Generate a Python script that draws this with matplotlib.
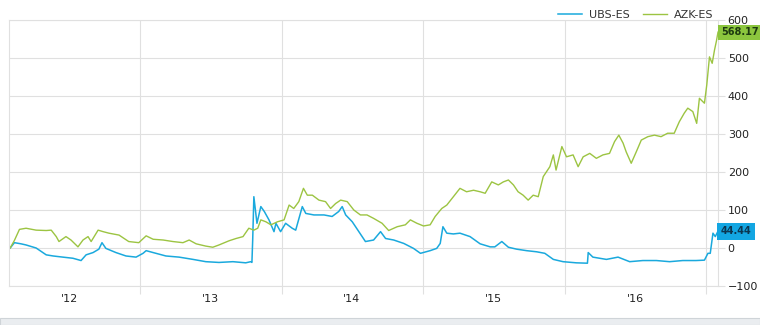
import matplotlib
matplotlib.use('Agg')
import matplotlib.pyplot as plt
import pandas as pd

# relative performance (%)
azk_dates = ['2012-01-31', '2012-02-11', '2012-02-24', '2012-03-12', '2012-04-07', '2012-05-03',
             '2012-05-16', '2012-05-29', '2012-06-05', '2012-06-23', '2012-07-06', '2012-07-24',
             '2012-08-06', '2012-08-19', '2012-08-27', '2012-09-14', '2012-09-27', '2012-10-12',
             '2012-11-07', '2012-12-02', '2012-12-28', '2013-01-16', '2013-02-03', '2013-03-01',
             '2013-03-26', '2013-04-21', '2013-05-07', '2013-05-25', '2013-06-19', '2013-07-07',
             '2013-07-23', '2013-08-18', '2013-09-05', '2013-09-23', '2013-10-08', '2013-10-21',
             '2013-10-31', '2013-11-08', '2013-11-21', '2013-12-04', '2013-12-21', '2014-01-07',
             '2014-01-20', '2014-02-01', '2014-02-14', '2014-02-26', '2014-03-08', '2014-03-21',
             '2014-04-07', '2014-04-24', '2014-05-07', '2014-05-20', '2014-06-02', '2014-06-19',
             '2014-07-06', '2014-07-23', '2014-08-09', '2014-08-26', '2014-09-17', '2014-10-04',
             '2014-10-26', '2014-11-16', '2014-11-29', '2014-12-16', '2015-01-02', '2015-01-19',
             '2015-02-01', '2015-02-18', '2015-03-03', '2015-03-20', '2015-04-06', '2015-04-23',
             '2015-05-11', '2015-05-28', '2015-06-10', '2015-06-27', '2015-07-14', '2015-07-27',
             '2015-08-09', '2015-08-22', '2015-09-03', '2015-09-16', '2015-09-29', '2015-10-12',
             '2015-10-25', '2015-11-07', '2015-11-24', '2015-12-03', '2015-12-10', '2015-12-25',
             '2016-01-06', '2016-01-23', '2016-02-05', '2016-02-18', '2016-03-06', '2016-03-23',
             '2016-04-09', '2016-04-26', '2016-05-09', '2016-05-20', '2016-05-31', '2016-06-08',
             '2016-06-21', '2016-07-04', '2016-07-17', '2016-08-03', '2016-08-20', '2016-09-06',
             '2016-09-23', '2016-10-10', '2016-10-23', '2016-11-05', '2016-11-14', '2016-11-27',
             '2016-12-07', '2016-12-14', '2016-12-27', '2017-01-02', '2017-01-09', '2017-01-16',
             '2017-01-22', '2017-01-27', '2017-01-31']
azk_values = [0, 20, 49, 52, 47, 46,
              47, 30, 17, 30, 21, 3,
              21, 30, 17, 47, 43, 39,
              34, 17, 14, 32, 23, 21,
              17, 14, 21, 11, 5, 2,
              8, 19, 25, 30, 52, 47,
              52, 74, 69, 61, 69, 74,
              113, 104, 122, 157, 139, 139,
              126, 122, 104, 117, 126, 122,
              100, 87, 87, 78, 65, 46,
              56, 61, 74, 65, 58, 61,
              83, 104, 113, 135, 157, 148,
              152, 148, 144, 174, 166, 174,
              179, 166, 148, 139, 126, 139,
              135, 188, 214, 245, 205, 267,
              240, 245, 214, 240, 249, 236,
              245, 249, 280, 297, 276, 253,
              223, 253, 284, 293, 297, 293,
              302, 302, 332, 355, 368, 359,
              328, 394, 381, 429, 503, 486,
              521, 545, 568.17]

ubs_dates = ['2012-01-31', '2012-02-11', '2012-02-28', '2012-03-12', '2012-04-07', '2012-05-03',
             '2012-05-21', '2012-06-15', '2012-07-11', '2012-08-01', '2012-08-14', '2012-09-01',
             '2012-09-16', '2012-09-24', '2012-10-04', '2012-10-30', '2012-11-25', '2012-12-21',
             '2013-01-08', '2013-01-16', '2013-02-03', '2013-03-08', '2013-04-11', '2013-05-17',
             '2013-06-19', '2013-07-23', '2013-08-28', '2013-09-30', '2013-10-13', '2013-10-16',
             '2013-10-18', '2013-10-21', '2013-10-29', '2013-11-08', '2013-11-17', '2013-11-29',
             '2013-12-12', '2013-12-17', '2013-12-29', '2014-01-11', '2014-01-28', '2014-02-06',
             '2014-02-23', '2014-03-04', '2014-03-25', '2014-04-20', '2014-05-11', '2014-05-28',
             '2014-06-06', '2014-06-15', '2014-07-02', '2014-07-19', '2014-08-05', '2014-08-26',
             '2014-09-13', '2014-09-26', '2014-10-17', '2014-11-12', '2014-12-07', '2014-12-25',
             '2015-01-19', '2015-02-05', '2015-02-14', '2015-02-21', '2015-03-03', '2015-03-20',
             '2015-04-06', '2015-05-02', '2015-05-28', '2015-06-23', '2015-07-05', '2015-07-23',
             '2015-08-09', '2015-08-30', '2015-09-25', '2015-10-21', '2015-11-11', '2015-12-03',
             '2015-12-28', '2016-01-31', '2016-02-29', '2016-03-02', '2016-03-14', '2016-04-18',
             '2016-05-18', '2016-06-17', '2016-07-21', '2016-08-25', '2016-09-28', '2016-11-01',
             '2016-12-05', '2016-12-27', '2017-01-05', '2017-01-11', '2017-01-18', '2017-01-24',
             '2017-01-31']
ubs_values = [0, 14, 11, 8, 0, -18,
              -21, -24, -27, -33, -18, -12,
              -3, 14, -1, -12, -21, -24,
              -14, -7, -12, -21, -24, -30,
              -36, -38, -36, -39, -36, -38,
              21, 135, 65, 109, 96, 74,
              43, 65, 43, 65, 52, 47,
              109, 91, 87, 87, 83, 96,
              109, 87, 69, 43, 17, 21,
              43, 25, 21, 12, -1, -14,
              -7, -1, 12, 56, 39, 37,
              39, 30, 11, 3, 3, 17,
              2, -3, -7, -10, -14, -30,
              -36, -39, -40, -12, -24, -30,
              -24, -36, -33, -33, -36, -33,
              -33, -32, -14, -14, 39, 30,
              44.44]

y_ticks = [-100, 0, 100, 200, 300, 400, 500, 600]
year_labels = ["'12", "'13", "'14", "'15", "'16"]

UBS_COLOR = '#1aa9dd'
AZK_COLOR = '#9cc442'
GRID = '#e0e0e0'


def main():
    azk = pd.Series(azk_values, index=pd.to_datetime(azk_dates))
    ubs = pd.Series(ubs_values, index=pd.to_datetime(ubs_dates))

    fig = plt.figure(figsize=(7.6, 3.25), dpi=100)
    ax = fig.add_axes([9 / 760, 39 / 325, 709 / 760, 266 / 325])

    ax.plot(ubs.index, ubs.values, color=UBS_COLOR, lw=1.1, label='UBS-ES')
    ax.plot(azk.index, azk.values, color=AZK_COLOR, lw=1.0, label='AZK-ES')

    ax.set_ylim(-100, 600)
    ax.set_xlim(pd.Timestamp('2012-01-28'), pd.Timestamp('2017-01-31'))
    ax.set_yticks(y_ticks)
    ax.yaxis.tick_right()
    ax.tick_params(axis='y', length=5, color=GRID, labelsize=8, pad=2, labelcolor='#222222')

    # year boundaries carry the grid, labels sit at mid-year
    ax.set_xticks(pd.to_datetime(['2013-01-01', '2014-01-01', '2015-01-01', '2016-01-01', '2017-01-01']))
    ax.set_xticklabels([])
    ax.set_xticks(pd.to_datetime(['2012-07-01', '2013-07-01', '2014-07-01', '2015-07-01', '2016-07-01']),
                  minor=True)
    ax.set_xticklabels(year_labels, minor=True)
    ax.tick_params(axis='x', which='major', length=6, color=GRID)
    ax.tick_params(axis='x', which='minor', length=0, labelsize=8, pad=6, labelcolor='#222222')

    ax.grid(True, which='major', color=GRID, lw=0.8)
    for s in ax.spines.values():
        s.set_color(GRID)
        s.set_linewidth(0.8)

    leg = ax.legend(loc='lower right', bbox_to_anchor=(0.995, 0.995), ncol=2, frameon=False,
                    fontsize=8, handlelength=2.2, handletextpad=0.6, columnspacing=1.2,
                    borderaxespad=0, borderpad=0.1)
    for t in leg.get_texts():
        t.set_color('#333333')

    # last value flags on the right axis
    ax.annotate(f'{azk.values[-1]:.2f}', xy=(1.0, azk.values[-1]), xycoords=('axes fraction', 'data'),
                xytext=(2, 0), textcoords='offset points', va='center', ha='left', fontsize=7,
                fontweight='bold', color='#1d3a10',
                bbox=dict(boxstyle='square,pad=0.25', fc='#8cc63e', ec='none'))
    ax.annotate(f'{ubs.values[-1]:.2f}', xy=(1.0, ubs.values[-1]), xycoords=('axes fraction', 'data'),
                xytext=(2, 0), textcoords='offset points', va='center', ha='left', fontsize=7,
                fontweight='bold', color='#0b3550',
                bbox=dict(boxstyle='square,pad=0.35', fc='#13a6e2', ec='none'))

    # grey strip along the bottom edge
    fig.patches.append(plt.Rectangle((0, 0), 1, 7 / 325, transform=fig.transFigure,
                                     fc='#eaedf0', ec='#cfd4d8', lw=0.8))

    fig.savefig('out.png', dpi=100)


if __name__ == '__main__':
    main()
